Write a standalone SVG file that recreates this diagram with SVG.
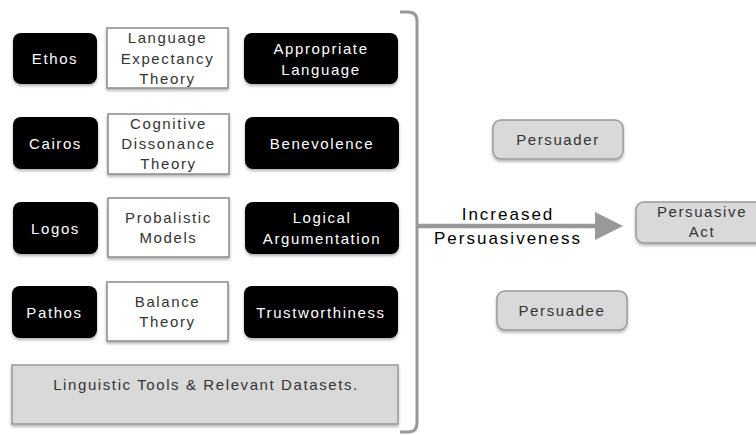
<svg xmlns="http://www.w3.org/2000/svg" width="756" height="435" viewBox="0 0 756 435">
<defs>
<filter id="sh" x="-10%" y="-10%" width="130%" height="140%">
<feDropShadow dx="0" dy="2" stdDeviation="1.5" flood-color="#000" flood-opacity="0.3"/>
</filter>
</defs>
<style>
text{font-family:"Liberation Sans",Arial,sans-serif;font-size:15px;letter-spacing:1.6px;text-anchor:middle}
.blk rect{fill:#000;filter:url(#sh)}
.blk text{fill:#fff}
.wht rect{fill:#fff;stroke:#8a8a8a;stroke-width:1.5;filter:url(#sh)}
.wht text{fill:#333}
.gry rect{fill:#d9d9d9;stroke:#999;stroke-width:1.5;filter:url(#sh)}
.gry text{fill:#333}
.lbl{fill:#000;font-size:17px;letter-spacing:2px}
</style>
<rect width="756" height="435" fill="#fff"/>
<g id="ethos" class="blk"><rect x="13" y="33" width="84" height="51" rx="8"/><text x="55" y="64">Ethos</text></g>
<g id="let" class="wht"><rect x="107" y="28" width="121" height="60"/><text x="167.5" y="43">Language</text><text x="167.5" y="64">Expectancy</text><text x="167.5" y="84">Theory</text></g>
<g id="applang" class="blk"><rect x="244" y="33" width="154" height="51" rx="8"/><text x="321" y="54">Appropriate</text><text x="321" y="75">Language</text></g>
<g id="cairos" class="blk"><rect x="13" y="117" width="85" height="52" rx="8"/><text x="55.5" y="149">Cairos</text></g>
<g id="cdt" class="wht"><rect x="108" y="114" width="121" height="60"/><text x="168.5" y="129">Cognitive</text><text x="168.5" y="149">Dissonance</text><text x="168.5" y="169">Theory</text></g>
<g id="benev" class="blk"><rect x="245" y="117" width="154" height="52" rx="8"/><text x="322" y="149">Benevolence</text></g>
<g id="logos" class="blk"><rect x="13" y="202" width="85" height="52" rx="8"/><text x="55.5" y="234">Logos</text></g>
<g id="prob" class="wht"><rect x="108" y="198" width="121" height="59"/><text x="168.5" y="223">Probalistic</text><text x="168.5" y="243">Models</text></g>
<g id="logarg" class="blk"><rect x="245" y="202" width="154" height="52" rx="8"/><text x="322" y="223">Logical</text><text x="322" y="244">Argumentation</text></g>
<g id="pathos" class="blk"><rect x="12" y="286" width="85" height="52" rx="8"/><text x="54.5" y="318">Pathos</text></g>
<g id="balance" class="wht"><rect x="107" y="282" width="121" height="59"/><text x="167.5" y="307">Balance</text><text x="167.5" y="327">Theory</text></g>
<g id="trust" class="blk"><rect x="244" y="286" width="154" height="52" rx="8"/><text x="321" y="318">Trustworthiness</text></g>
<g id="tools" class="gry"><rect x="12" y="365" width="386" height="59"/><text x="206" y="390">Linguistic Tools &amp; Relevant Datasets.</text></g>
<g id="persuader" class="gry"><rect x="493" y="120" width="130" height="39" rx="8"/><text x="558" y="145">Persuader</text></g>
<g id="act" class="gry"><rect x="636" y="202" width="130" height="41" rx="8"/><text x="702" y="217">Persuasive</text><text x="702" y="237">Act</text></g>
<g id="persuadee" class="gry"><rect x="497" y="291" width="130" height="39" rx="8"/><text x="562" y="316">Persuadee</text></g>
<g id="connectors">
<path d="M400 12 H408 Q417 12 417 21 V423 Q417 432 408 432 H400" fill="none" stroke="#999" stroke-width="3"/>
<path d="M417 226 H597" stroke="#999" stroke-width="4.5" fill="none"/>
<polygon points="595,212 623,226 595,240" fill="#999"/>
<text class="lbl" x="508" y="220">Increased</text>
<text class="lbl" x="508" y="244">Persuasiveness</text>
</g>
</svg>
